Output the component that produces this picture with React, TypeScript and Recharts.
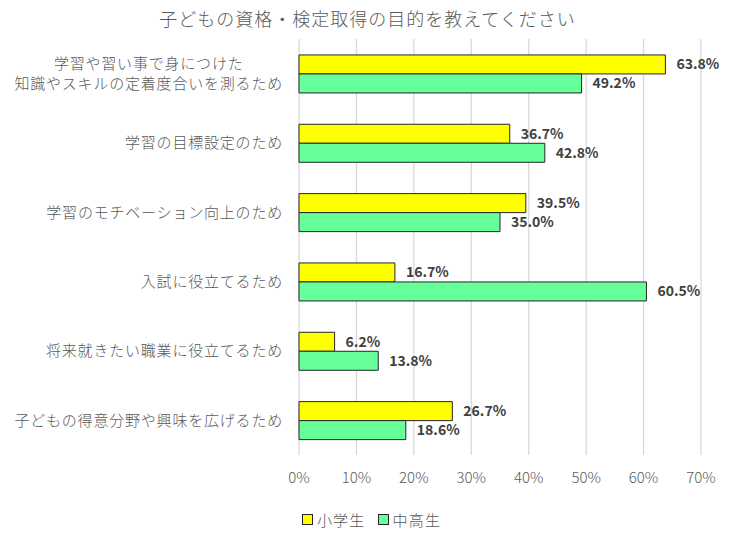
import { Bar, BarChart, CartesianGrid, LabelList, Legend, XAxis, YAxis } from "recharts";

// 子どもの資格・検定取得の目的 — 小学生 / 中高生 の比較（横棒）
const categories = [
  "学習や習い事で身につけた\n知識やスキルの定着度合いを測るため",
  "学習の目標設定のため",
  "学習のモチベーション向上のため",
  "入試に役立てるため",
  "将来就きたい職業に役立てるため",
  "子どもの得意分野や興味を広げるため",
];
const elementary = [63.8, 36.7, 39.5, 16.7, 6.2, 26.7];
const secondary = [49.2, 42.8, 35.0, 60.5, 13.8, 18.6];
const xTicks = [0, 10, 20, 30, 40, 50, 60, 70];

const TITLE = "子どもの資格・検定取得の目的を教えてください";
const SERIES = [
  { key: "elementary", name: "小学生", color: "#FFFF00" },
  { key: "secondary", name: "中高生", color: "#66FF99" },
];

const FONT = "'Noto Sans CJK JP', 'Noto Sans', sans-serif";
const TEXT = "#595959";
const LABEL = "#404040";
const GRID = "#D9D9D9";
const CHAR_W = 15.8; // カテゴリ文字の送り幅（15px + 字間0.8）

const data = categories.map((name, i) => ({
  name,
  elementary: elementary[i],
  secondary: secondary[i],
}));

// 複数行カテゴリ: 最長行を右揃え、他の行はその中央に揃える
function CategoryTick(props: any) {
  const { x, y, payload } = props;
  const lines = String(payload.value).split("\n");
  const maxLen = Math.max(...lines.map((l) => l.length));
  const center = x - (maxLen * CHAR_W) / 2;
  const lineH = 20;
  const top = y - ((lines.length - 1) * lineH) / 2;
  return (
    <g>
      {lines.map((l, i) => (
        <text
          key={i}
          x={lines.length > 1 ? center : x}
          y={top + i * lineH}
          dy="0.35em"
          textAnchor={lines.length > 1 ? "middle" : "end"}
          fill={TEXT}
          fontSize={15}
          fontWeight={300}
          letterSpacing={0.8}
          fontFamily={FONT}
        >
          {l}
        </text>
      ))}
    </g>
  );
}

function LegendBox() {
  return (
    <div
      style={{
        height: 42,
        width: 735,
        display: "flex",
        justifyContent: "center",
        alignItems: "center",
        paddingTop: 6,
        paddingLeft: 8,
        boxSizing: "border-box",
        fontFamily: FONT,
        fontSize: 15,
        fontWeight: 300,
        color: TEXT,
        letterSpacing: 1.2,
      }}
    >
      {SERIES.map((s, i) => (
        <span
          key={s.key}
          style={{ display: "flex", alignItems: "center", marginLeft: i > 0 ? 12 : 0 }}
        >
          <span
            style={{
              width: 9,
              height: 9,
              background: s.color,
              border: "1px solid #262626",
              marginRight: 4,
              display: "inline-block",
            }}
          />
          {s.name}
        </span>
      ))}
    </div>
  );
}

export default function App() {
  return (
    <div style={{ position: "absolute", left: 0, top: 0, width: 735, height: 537, background: "#fff" }}>
      <div
        style={{
          position: "absolute",
          top: 4,
          left: 0,
          width: 735,
          textAlign: "center",
          fontFamily: FONT,
          fontSize: 18,
          fontWeight: 300,
          letterSpacing: 1,
          color: TEXT,
          lineHeight: "28px",
        }}
      >
        {TITLE}
      </div>
      <BarChart
        width={735}
        height={537}
        data={data}
        layout="vertical"
        margin={{ top: 39, right: 34, bottom: 0, left: 0 }}
        barCategoryGap="23%"
        barGap={0}
      >
        <CartesianGrid horizontal={false} stroke={GRID} strokeWidth={1.3} />
        <XAxis
          type="number"
          domain={[0, 70]}
          ticks={xTicks}
          tickFormatter={(v) => `${v}%`}
          axisLine={false}
          tickLine={false}
          tickMargin={11}
          height={40}
          tick={{ fontSize: 15, fill: TEXT, fontFamily: FONT, fontWeight: 300 }}
        />
        <YAxis
          type="category"
          dataKey="name"
          width={299}
          axisLine={false}
          tickLine={false}
          tickMargin={10}
          interval={0}
          tick={<CategoryTick />}
        />
        <Legend
          verticalAlign="bottom"
          height={42}
          wrapperStyle={{ left: 0, width: 735 }}
          content={() => <LegendBox />}
        />
        {SERIES.map((s) => (
          <Bar
            key={s.key}
            dataKey={s.key}
            name={s.name}
            fill={s.color}
            stroke="#262626"
            strokeWidth={1}
            isAnimationActive={false}
          >
            <LabelList
              dataKey={s.key}
              position="right"
              offset={11}
              formatter={(v: any) => `${Number(v).toFixed(1)}%`}
              style={{ fontSize: 14, fontWeight: 700, fill: LABEL, fontFamily: FONT }}
            />
          </Bar>
        ))}
      </BarChart>
    </div>
  );
}
